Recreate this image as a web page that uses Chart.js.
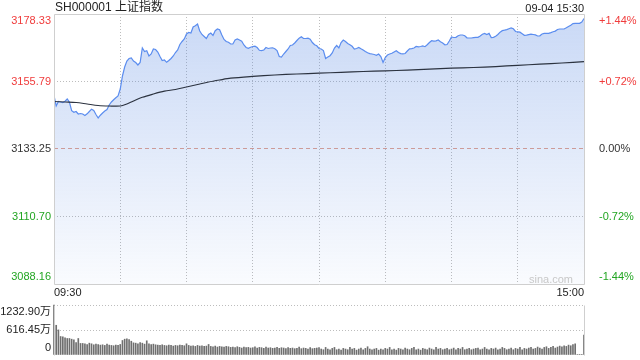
<!DOCTYPE html>
<html lang="zh-CN">
    <head>
        <meta charset="UTF-8" />
        <title>SH000001 上证指数 分时</title>
        <script src="https://cdn.jsdelivr.net/npm/chart.js@4.4.0/dist/chart.umd.min.js"></script>
        <style>
            body {
                margin: 0;
                background: #fff;
                font-family: Arial, "Liberation Sans", "Noto Sans CJK SC", sans-serif;
            }
            .wrap {
                position: relative;
                width: 640px;
                height: 360px;
                overflow: hidden;
            }
            #mainChart {
                position: absolute;
                left: 0;
                top: 0;
            }
            #volChart {
                position: absolute;
                left: 0;
                top: 298px;
            }
            .title {
                position: absolute;
                left: 55px;
                top: 0;
                font-size: 12px;
                line-height: 15px;
                color: #222;
            }
            .stamp {
                position: absolute;
                right: 56px;
                top: 1px;
                font-size: 11px;
                line-height: 14px;
                color: #222;
            }
            .mark {
                position: absolute;
                right: 67px;
                top: 272px;
                font-size: 11px;
                line-height: 14px;
                color: #c8c8c8;
            }
        </style>
    </head>
    <body>
        <div class="wrap">
            <canvas id="mainChart" width="640" height="300"></canvas>
            <canvas id="volChart" width="640" height="62"></canvas>
            <div class="title">SH000001 上证指数</div>
            <div class="stamp">09-04 15:30</div>
            <div class="mark">sina.com</div>
        </div>

        <script>
            // axis ticks
            const priceTicks = [3088.16, 3110.7, 3133.25, 3155.79, 3178.33];
            const pctTicks = [-1.44, -0.72, 0, 0.72, 1.44];
            const pctLabels = ["-1.44%", "-0.72%", "0.00%", "+0.72%", "+1.44%"];
            const timeTicks = [0, 30, 60, 90, 120, 150, 180, 210, 240];
            const timeLabels = ["09:30", "", "", "", "", "", "", "", "15:00"];
            const volTicks = [0, 616.45, 1232.9];
            const volLabels = ["0", "616.45万", "1232.90万"];

            // minute prices, 09:30 .. 11:30 / 13:00 .. 15:00 (241 points)
            const prices = [
                3151.05, 3147.61, 3149.11, 3148.94, 3148.77, 3149.18, 3149.94, 3148.84, 3146.04, 3145.5,
                3145.77, 3144.93, 3145.1, 3144.93, 3144.43, 3145.0, 3145.77, 3146.54, 3146.1, 3144.77,
                3143.6, 3144.53, 3145.27, 3145.94, 3146.44, 3147.94, 3148.94, 3149.68, 3150.34, 3150.95,
                3153.28, 3157.63, 3160.63, 3162.64, 3163.47, 3163.64, 3162.64, 3162.13, 3161.3, 3162.13,
                3166.98, 3165.81, 3166.08, 3164.31, 3164.97, 3166.64, 3166.48, 3165.64, 3164.14, 3162.8,
                3162.97, 3162.2, 3162.8, 3163.47, 3164.31, 3165.47, 3166.31, 3168.15, 3169.15, 3169.98,
                3171.65, 3172.15, 3171.99, 3173.99, 3174.43, 3174.99, 3172.66, 3171.49, 3170.82, 3170.15,
                3171.49, 3171.99, 3171.15, 3172.76, 3173.32, 3173.09, 3171.32, 3169.82, 3169.15, 3168.88,
                3168.31, 3168.31, 3169.65, 3169.98, 3169.65, 3169.22, 3167.98, 3167.14, 3166.88, 3167.21,
                3167.48, 3167.58, 3167.14, 3166.21, 3166.08, 3166.31, 3167.14, 3166.81, 3166.98, 3167.04,
                3166.74, 3166.14, 3164.14, 3163.97, 3164.97, 3165.81, 3166.64, 3167.81, 3167.98, 3168.65,
                3169.48, 3170.25, 3170.75, 3170.15, 3170.15, 3170.25, 3169.92, 3168.81, 3168.05, 3167.71,
                3166.81, 3166.64, 3166.14, 3163.47, 3163.97, 3164.41, 3165.31, 3166.98, 3167.81, 3166.98,
                3168.81, 3169.65, 3169.15, 3168.48, 3168.05, 3167.55, 3166.64, 3166.81, 3167.14, 3166.71,
                3166.31, 3165.81, 3165.37, 3165.11, 3164.97, 3164.81, 3164.54, 3164.97, 3164.14, 3162.13,
                3163.8, 3164.64, 3164.97, 3165.21, 3165.64, 3166.08, 3165.47, 3165.11, 3165.04, 3165.14,
                3165.98, 3166.71, 3166.78, 3166.98, 3167.48, 3167.38, 3167.48, 3167.65, 3167.41, 3168.05,
                3168.81, 3169.42, 3169.28, 3169.38, 3169.65, 3169.05, 3168.65, 3168.05, 3168.15, 3169.32,
                3170.65, 3170.48, 3170.55, 3171.09, 3171.32, 3171.32, 3171.05, 3170.38, 3170.32, 3170.32,
                3170.45, 3170.55, 3170.55, 3170.99, 3171.55, 3171.85, 3171.49, 3171.85, 3170.48, 3170.55,
                3170.92, 3171.49, 3172.26, 3172.76, 3172.92, 3173.12, 3173.39, 3173.66, 3173.39, 3172.49,
                3172.39, 3172.26, 3171.75, 3171.22, 3171.25, 3171.45, 3171.62, 3171.49, 3171.35, 3170.99,
                3171.05, 3171.65, 3171.85, 3171.89, 3171.89, 3172.12, 3172.39, 3172.62, 3173.16, 3173.32,
                3173.32, 3173.32, 3173.72, 3174.16, 3174.59, 3175.13, 3175.23, 3175.23, 3175.23, 3175.66,
                3176.83,
            ];

            // average price line, read every few minutes
            const avgMinutes = [
                0, 5, 10, 15, 20, 25, 30, 33, 35, 40, 45, 50, 55, 60, 65, 70, 75, 80, 90, 100,
                110, 120, 130, 140, 150, 160, 170, 180, 190, 200, 210, 220, 230, 240,
            ];
            const avgPrices = [
                3149.11, 3148.94, 3148.77, 3148.27, 3147.77, 3147.61, 3147.61, 3148.27, 3148.94, 3150.51,
                3151.61, 3152.55, 3153.12, 3153.95, 3154.79, 3155.62, 3156.29, 3156.89, 3157.49, 3157.96,
                3158.29, 3158.56, 3158.86, 3159.13, 3159.36, 3159.56, 3159.9, 3160.23, 3160.46, 3160.77,
                3161.2, 3161.57, 3161.97, 3162.4,
            ];

            // minute volume, 万 (241 bars)
            const volumes = [
                1232.9, 733, 619, 456, 448, 423, 407, 407, 390, 374,
                309, 407, 285, 285, 276, 260, 292, 276, 252, 268,
                260, 244, 252, 236, 268, 244, 236, 228, 244, 236,
                260, 358, 390, 398, 382, 340, 300, 292, 276, 309,
                292, 268, 350, 276, 260, 268, 252, 244, 236, 252,
                236, 228, 244, 236, 220, 236, 228, 244, 236, 228,
                276, 236, 220, 228, 212, 236, 220, 228, 212, 220,
                260, 212, 204, 220, 196, 212, 204, 196, 212, 204,
                188, 196, 180, 204, 188, 172, 196, 180, 188, 172,
                180, 204, 172, 188, 180, 164, 196, 172, 180, 164,
                172, 188, 164, 180, 172, 156, 180, 164, 172, 156,
                164, 196, 156, 172, 164, 148, 180, 156, 164, 172,
                180, 147, 130, 187, 147, 130, 163, 187, 130, 147,
                120, 163, 147, 130, 187, 147, 163, 120, 147, 171,
                130, 163, 204, 147, 130, 147, 163, 120, 147, 130,
                163, 147, 187, 130, 147, 120, 163, 147, 130, 171,
                147, 130, 163, 187, 130, 147, 120, 163, 147, 130,
                171, 147, 130, 187, 147, 163, 130, 147, 163, 130,
                147, 171, 130, 163, 147, 187, 130, 147, 163, 130,
                147, 163, 171, 130, 147, 187, 147, 130, 163, 147,
                171, 130, 147, 187, 163, 130, 147, 171, 130, 163,
                147, 187, 130, 163, 147, 171, 187, 147, 163, 196,
                171, 147, 187, 204, 163, 187, 212, 171, 196, 220,
                204, 228, 212, 244, 228, 260, 276, 12, 10, 14,
                490,
            ];

            const RED = "#f03c3c";
            const GREEN = "#22a522";
            const DARK = "#333";
            const GRID = "#bdbdbd";
            const FRAME = "#cfcfcf";

            Chart.defaults.font.family =
                'Arial, "Liberation Sans", "Noto Sans CJK SC", sans-serif';
            Chart.defaults.font.size = 11;

            // up/down colouring of the price labels
            function tickColor(i) {
                if (i < 2) return GREEN;
                if (i > 2) return RED;
                return DARK;
            }

            // push first/last labels inside the plot area
            function innerLabel(text, i, n) {
                if (i === 0) return [text, ""];
                if (i === n - 1) return ["", text];
                return text;
            }

            // frame around the plot area
            const framePlugin = {
                id: "frame",
                afterDatasetsDraw(chart, args, opts) {
                    const a = chart.chartArea;
                    const ctx = chart.ctx;
                    const l = Math.round(a.left) + 0.5;
                    const r = Math.round(a.right) + 0.5;
                    const t = Math.round(a.top) + 0.5;
                    const b = Math.round(a.bottom) + 0.5;
                    ctx.save();
                    ctx.strokeStyle = FRAME;
                    ctx.lineWidth = 1;
                    ctx.beginPath();
                    ctx.moveTo(l, t);
                    ctx.lineTo(l, b);
                    ctx.moveTo(r, t);
                    ctx.lineTo(r, b);
                    if (opts.full) {
                        ctx.moveTo(l, t);
                        ctx.lineTo(r, t);
                        ctx.moveTo(l, b);
                        ctx.lineTo(r, b);
                    }
                    ctx.stroke();
                    ctx.restore();
                },
            };

            function fixWidth(w) {
                return function (scale) {
                    scale.width = w;
                    scale.paddingTop = 0;
                    scale.paddingBottom = 0;
                };
            }

            // price chart
            new Chart(document.getElementById("mainChart"), {
                type: "line",
                data: {
                    datasets: [
                        {
                            label: "均价",
                            data: avgMinutes.map((m, i) => ({ x: m, y: avgPrices[i] })),
                            borderColor: "#2c3340",
                            borderWidth: 1.2,
                            pointRadius: 0,
                            tension: 0.3,
                            fill: false,
                            order: 1,
                        },
                        {
                            label: "价格",
                            data: prices.map((p, i) => ({ x: i, y: p })),
                            borderColor: "#5b8def",
                            borderWidth: 1.2,
                            pointRadius: 0,
                            fill: "start",
                            backgroundColor: (c) => {
                                const a = c.chart.chartArea;
                                if (!a) return "rgba(0,0,0,0)";
                                const g = c.chart.ctx.createLinearGradient(0, a.top, 0, a.bottom);
                                g.addColorStop(0, "rgba(82,132,225,0.31)");
                                g.addColorStop(1, "rgba(82,132,225,0.03)");
                                return g;
                            },
                            order: 2,
                        },
                    ],
                },
                options: {
                    responsive: false,
                    animation: false,
                    devicePixelRatio: 1,
                    layout: { padding: { top: 14, left: 0, right: 0, bottom: 0 } },
                    plugins: {
                        legend: { display: false },
                        tooltip: { enabled: false },
                        frame: { full: true },
                    },
                    scales: {
                        x: {
                            type: "linear",
                            min: 0,
                            max: 240,
                            afterBuildTicks: (s) => {
                                s.ticks = timeTicks.map((v) => ({ value: v }));
                            },
                            afterFit: (s) => {
                                s.height = 16;
                                s.paddingLeft = 0;
                                s.paddingRight = 0;
                            },
                            ticks: {
                                align: "inner",
                                padding: 2,
                                maxRotation: 0,
                                autoSkip: false,
                                color: "#222",
                                callback: (v, i) => timeLabels[i],
                            },
                            grid: {
                                drawTicks: false,
                                color: (c) =>
                                    c.index === 0 || c.index === timeTicks.length - 1
                                        ? "rgba(0,0,0,0)"
                                        : GRID,
                            },
                            border: { display: false, dash: [1, 2] },
                        },
                        y: {
                            position: "left",
                            min: priceTicks[0],
                            max: priceTicks[priceTicks.length - 1],
                            afterBuildTicks: (s) => {
                                s.ticks = priceTicks.map((v) => ({ value: v }));
                            },
                            afterFit: fixWidth(54),
                            ticks: {
                                padding: 3,
                                autoSkip: false,
                                color: (c) => tickColor(c.index),
                                callback: (v, i) =>
                                    innerLabel(priceTicks[i].toFixed(2), i, priceTicks.length),
                            },
                            grid: {
                                drawTicks: false,
                                color: (c) => {
                                    if (c.index === 0 || c.index === priceTicks.length - 1)
                                        return "rgba(0,0,0,0)";
                                    return c.index === 2 ? "#e6a08a" : GRID;
                                },
                            },
                            border: {
                                display: false,
                                dash: (c) => (c.index === 2 ? [4, 3] : [1, 2]),
                            },
                        },
                        pct: {
                            position: "right",
                            min: pctTicks[0],
                            max: pctTicks[pctTicks.length - 1],
                            afterBuildTicks: (s) => {
                                s.ticks = pctTicks.map((v) => ({ value: v }));
                            },
                            afterFit: fixWidth(56),
                            ticks: {
                                padding: 7,
                                autoSkip: false,
                                color: (c) => tickColor(c.index),
                                callback: (v, i) => innerLabel(pctLabels[i], i, pctLabels.length),
                            },
                            grid: { display: false },
                            border: { display: false },
                        },
                    },
                },
                plugins: [framePlugin],
            });

            // volume chart
            new Chart(document.getElementById("volChart"), {
                type: "bar",
                data: {
                    datasets: [
                        {
                            label: "成交量",
                            data: volumes.map((v, i) => ({ x: i, y: v })),
                            backgroundColor: "#6f6f6f",
                            barThickness: 1,
                            clip: false,
                        },
                    ],
                },
                options: {
                    responsive: false,
                    animation: false,
                    devicePixelRatio: 1,
                    layout: { padding: { top: 7, left: 0, right: 56, bottom: 5 } },
                    plugins: {
                        legend: { display: false },
                        tooltip: { enabled: false },
                        frame: { full: false },
                    },
                    scales: {
                        x: {
                            type: "linear",
                            min: 0,
                            max: 240,
                            offset: false,
                            display: false,
                        },
                        y: {
                            min: 0,
                            max: volTicks[volTicks.length - 1],
                            afterBuildTicks: (s) => {
                                s.ticks = volTicks.map((v) => ({ value: v }));
                            },
                            afterFit: fixWidth(54),
                            ticks: {
                                padding: 3,
                                autoSkip: false,
                                color: "#222",
                                callback: (v, i) => innerLabel(volLabels[i], i, volLabels.length),
                            },
                            grid: {
                                drawTicks: false,
                                color: (c) => (c.index === 0 ? "rgba(0,0,0,0)" : GRID),
                            },
                            border: { display: false, dash: [1, 2] },
                        },
                    },
                },
                plugins: [framePlugin],
            });
        </script>
    </body>
</html>
